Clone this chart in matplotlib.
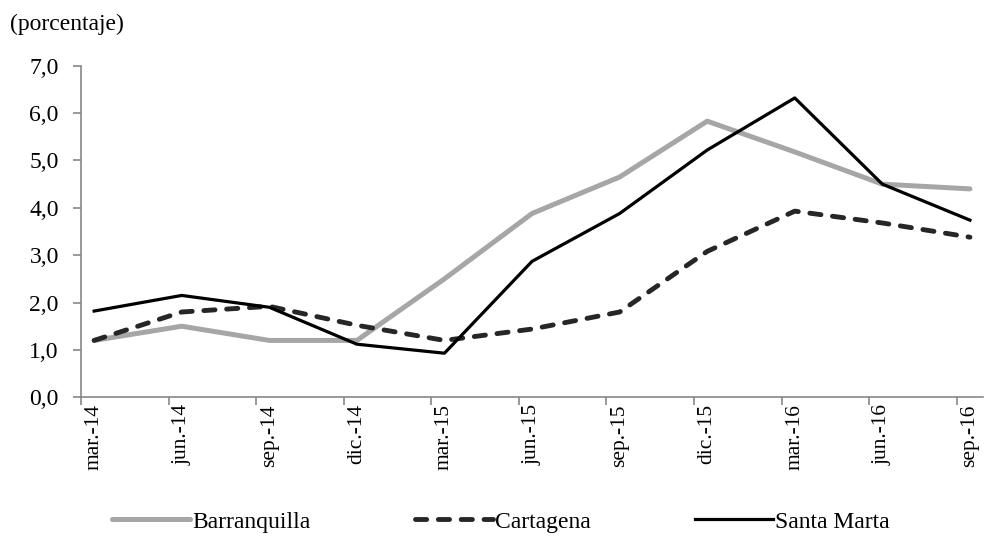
import numpy as np
import matplotlib
matplotlib.use("Agg")
import matplotlib.pyplot as plt
from matplotlib.ticker import FuncFormatter, FixedLocator

plt.rcParams['font.family'] = ['Liberation Serif', 'DejaVu Serif']

periodos = ['mar.-14', 'jun.-14', 'sep.-14', 'dic.-14', 'mar.-15', 'jun.-15',
            'sep.-15', 'dic.-15', 'mar.-16', 'jun.-16', 'sep.-16']
barranquilla = [1.2, 1.5, 1.2, 1.2, 2.5, 3.88, 4.65, 5.83, 5.18, 4.5, 4.4]
cartagena = [1.2, 1.8, 1.92, 1.52, 1.2, 1.44, 1.8, 3.08, 3.93, 3.68, 3.38]
santa_marta = [1.82, 2.15, 1.9, 1.12, 0.93, 2.87, 3.88, 5.22, 6.32, 4.5, 3.74]

fig = plt.figure(figsize=(9.88, 5.39), dpi=100)
ax = fig.add_axes([0.082, 0.263, 0.913, 0.615])

x = np.arange(len(periodos))
gris = '#888888'

ax.plot(x, barranquilla, color='#a6a6a6', lw=3.6, solid_capstyle='round', label='Barranquilla')
ax.plot(x, cartagena, color='#262626', lw=3.5, ls=(0, (2.3, 2.4)), dash_capstyle='round', label='Cartagena')
ax.plot(x, santa_marta, color='black', lw=2.3, label='Santa Marta')

ax.set_ylim(0, 7)
ax.set_xlim(-0.15, len(periodos) - 1 + 0.15)
ax.set_yticks(np.arange(0, 8, 1))
ax.yaxis.set_major_formatter(FuncFormatter(lambda v, p: f'{v:.1f}'.replace('.', ',')))

# marcas entre categorias (estilo Excel), etiquetas en los puntos
ax.xaxis.set_major_locator(FixedLocator(x - 0.15))
ax.xaxis.set_major_formatter(FuncFormatter(lambda v, p: ''))
ax.xaxis.set_minor_locator(FixedLocator(x))
ax.set_xticklabels(periodos, minor=True, rotation=90)
ax.tick_params(axis='x', which='minor', length=0, labelsize=15.5, pad=5)
ax.tick_params(axis='x', which='major', length=6, color=gris, width=1.2)
ax.tick_params(axis='y', length=6, color=gris, width=1.2, labelsize=17, pad=10)

for s in ['top', 'right']:
    ax.spines[s].set_visible(False)
for s in ['left', 'bottom']:
    ax.spines[s].set_color(gris)
    ax.spines[s].set_linewidth(1.2)

fig.text(0.01, 0.955, '(porcentaje)', fontsize=17, va='center', ha='left')

fig.legend(loc='center', bbox_to_anchor=(0.507, 0.032), ncol=3, frameon=False,
           fontsize=17, handlelength=3.3, handletextpad=0.1, columnspacing=4.4)

fig.savefig('out.png', dpi=100)
